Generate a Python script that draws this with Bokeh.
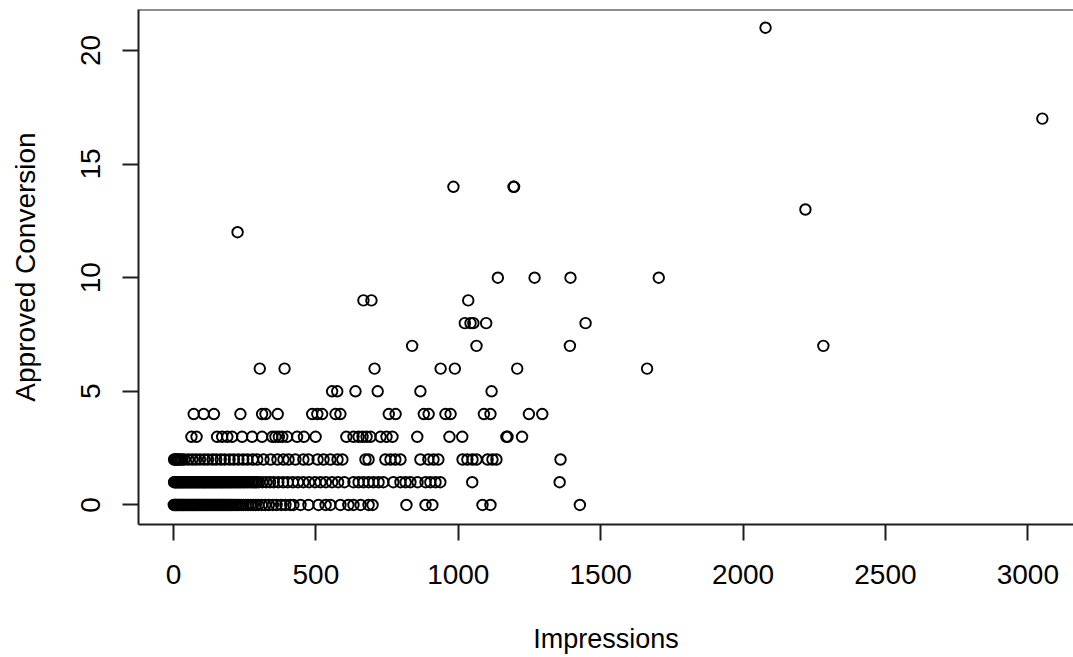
from bokeh.plotting import figure
from bokeh.models import ColumnDataSource, Range1d, FixedTicker, Span
from bokeh.embed import file_html
from bokeh.resources import INLINE

# ---- data (Impressions per Approved Conversion level) ----
x_ticks = [0, 500, 1000, 1500, 2000, 2500, 3000]
y_ticks = [0, 5, 10, 15, 20]

conv_0 = [1, 4, 7, 9, 12, 15, 18, 21, 24, 27, 31, 34, 37, 41, 44, 48, 52, 55, 58, 62,
          66, 69, 73, 77, 80, 84, 88, 91, 95, 99, 103, 107, 111, 114, 118, 122, 126, 130,
          134, 138, 142, 146, 150, 154, 158, 162, 166, 170, 174, 178, 183, 187, 191, 196,
          200, 205, 211, 217, 223, 230, 238, 245, 253, 262, 270, 279, 289, 298, 310, 322,
          335, 349, 362, 378, 393, 410, 421, 446, 474, 509, 534, 551, 586, 614, 632, 657,
          685, 699, 818, 885, 909, 1085, 1113, 1427]
conv_1 = [2, 5, 8, 11, 14, 17, 20, 23, 26, 30, 33, 36, 40, 43, 47, 50, 54, 57, 61, 64,
          68, 71, 75, 79, 82, 86, 90, 93, 97, 101, 105, 108, 112, 116, 120, 124, 128, 132,
          136, 140, 144, 148, 152, 156, 160, 164, 168, 172, 177, 181, 185, 190, 194, 199,
          203, 208, 213, 218, 223, 228, 233, 238, 244, 249, 255, 261, 267, 273, 279, 286,
          293, 300, 312, 326, 339, 352, 368, 385, 401, 419, 437, 456, 476, 497, 516, 535,
          557, 578, 600, 632, 650, 667, 685, 702, 720, 737, 772, 797, 815, 832, 857, 885,
          902, 920, 937, 1049, 1356]
conv_2 = [2, 6, 10, 14, 19, 24, 30, 38, 52, 66, 79, 93, 108, 121, 137, 150, 166, 180, 197,
          212, 228, 245, 260, 278, 294, 316, 341, 365, 386, 404, 428, 456, 474, 506, 527,
          551, 576, 593, 674, 685, 744, 762, 779, 797, 867, 895, 913, 930, 1015, 1032, 1050,
          1064, 1103, 1120, 1134, 1359]
conv_3 = [63, 81, 153, 171, 189, 206, 241, 276, 311, 347, 358, 370, 382, 399, 434, 458, 499,
          607, 632, 650, 664, 678, 692, 727, 748, 769, 856, 969, 1014, 1169, 1173, 1224]
conv_4 = [71, 106, 142, 235, 311, 323, 366, 487, 505, 522, 569, 586, 756, 780, 879, 896,
          955, 973, 1090, 1113, 1248, 1295]
conv_5 = [557, 575, 639, 717, 867, 1117]
conv_6 = [303, 390, 706, 938, 988, 1207, 1663]
conv_7 = [838, 1064, 1392, 2282]
conv_8 = [1023, 1043, 1053, 1098, 1447]
conv_9 = [667, 695, 1035]
conv_10 = [1139, 1268, 1394, 1704]
conv_12 = [225]
conv_13 = [2219]
conv_14 = [983, 1194, 1196]
conv_17 = [3051]
conv_21 = [2079]

groups = {0: conv_0, 1: conv_1, 2: conv_2, 3: conv_3, 4: conv_4, 5: conv_5, 6: conv_6,
          7: conv_7, 8: conv_8, 9: conv_9, 10: conv_10, 12: conv_12, 13: conv_13,
          14: conv_14, 17: conv_17, 21: conv_21}

xs, ys = [], []
for level, imps in groups.items():
    xs.extend(imps)
    ys.extend([level] * len(imps))
source = ColumnDataSource(dict(impressions=xs, approved=ys))

FONT = "Liberation Sans"
INK = "#1e1e1e"

p = figure(width=1073, height=657,
           x_range=Range1d(-122.9, 3160.4), y_range=Range1d(-0.86, 21.8),
           output_backend="svg", toolbar_location=None,
           min_border_left=138, min_border_right=0, min_border_top=9, min_border_bottom=133,
           background_fill_color="white", border_fill_color="white")

p.outline_line_color = None
p.grid.visible = False

p.scatter("impressions", "approved", source=source, marker="circle", size=10.5,
          fill_color=None, line_color="black", line_width=1.9)

top_line = Span(location=21.8, dimension="width", line_color=INK, line_width=2)
p.add_layout(top_line)

for ax in (p.xaxis[0], p.yaxis[0]):
    ax.axis_line_color = INK
    ax.axis_line_width = 2
    ax.major_tick_line_color = INK
    ax.major_tick_line_width = 2
    ax.major_tick_out = 16
    ax.major_tick_in = 0
    ax.minor_tick_line_color = None
    ax.major_label_text_font = FONT
    ax.major_label_text_font_size = "28px"
    ax.major_label_text_color = "black"
    ax.axis_label_text_font = FONT
    ax.axis_label_text_font_style = "normal"
    ax.axis_label_text_color = "black"

p.xaxis.axis_label_text_font_size = "27px"
p.yaxis.axis_label_text_font_size = "28px"
p.xaxis.ticker = FixedTicker(ticks=x_ticks)
p.yaxis.ticker = FixedTicker(ticks=y_ticks)
p.xaxis.axis_label = "Impressions"
p.yaxis.axis_label = "Approved Conversion"
p.yaxis.major_label_orientation = "vertical"
p.xaxis.major_label_standoff = 24
p.xaxis.axis_label_standoff = 37
p.yaxis.major_label_standoff = 22
p.yaxis.axis_label_standoff = 38

open("out.html", "w").write(file_html(p, INLINE))
